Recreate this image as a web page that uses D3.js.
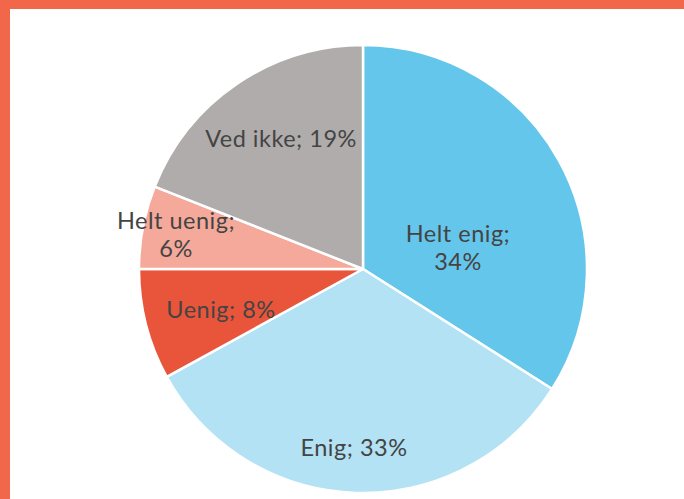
<!DOCTYPE html>
<html><head><meta charset="utf-8">
<script src="https://cdn.jsdelivr.net/npm/d3@7"></script>
<style>html,body{margin:0;padding:0;background:#fff;}svg{display:block;}</style>
</head><body>
<svg id="c" width="684" height="499"></svg>
<script>
const categories = ["Helt enig", "Enig", "Uenig", "Helt uenig", "Ved ikke"];
const values = [34, 33, 8, 6, 19];
const colors = ["#65C6EB", "#B3E2F4", "#E9553B", "#F4A99B", "#B0ACAC"];
// label layout: lines split and centre positions (layout only)
const labelLines = [["Helt enig;", "34%"], ["Enig; 33%"], ["Uenig; 8%"], ["Helt uenig;", "6%"], ["Ved ikke; 19%"]];
const labelAnchors = [[458, 242], [354, 456], [221, 318], [176, 229], [281, 147]];

const svg = d3.select("#c");
const W = 684, H = 499;
svg.append("rect").attr("width", W).attr("height", H).attr("fill", "#fff");
// frame
svg.append("rect").attr("x", 0).attr("y", 0).attr("width", W).attr("height", 9).attr("fill", "#F26649");
svg.append("rect").attr("x", 0).attr("y", 0).attr("width", 10).attr("height", H).attr("fill", "#F26649");

const cx = 363, cy = 269, R = 224;
const data = categories.map((c, i) => ({ name: c, value: values[i], color: colors[i] }));
const pie = d3.pie().value(d => d.value).sort(null);
const arc = d3.arc().innerRadius(0).outerRadius(R);
const g = svg.append("g").attr("transform", `translate(${cx},${cy})`);
g.selectAll("path").data(pie(data)).join("path")
  .attr("d", arc).attr("fill", d => d.data.color)
  .attr("stroke", "#fff").attr("stroke-width", 2.5).attr("stroke-linejoin", "round");

data.forEach((d, i) => {
  const [x, y] = labelAnchors[i];
  const t = svg.append("text").attr("x", x).attr("y", y).attr("text-anchor", "middle")
    .attr("font-family", "Lato, 'Noto Sans', sans-serif").attr("font-size", 23.5)
    .attr("letter-spacing", 0.5)
    .attr("fill", "#444444");
  labelLines[i].forEach((ln, j) => {
    t.append("tspan").attr("x", x).attr("y", y + j * 28).text(ln);
  });
});
</script>
</body></html>
